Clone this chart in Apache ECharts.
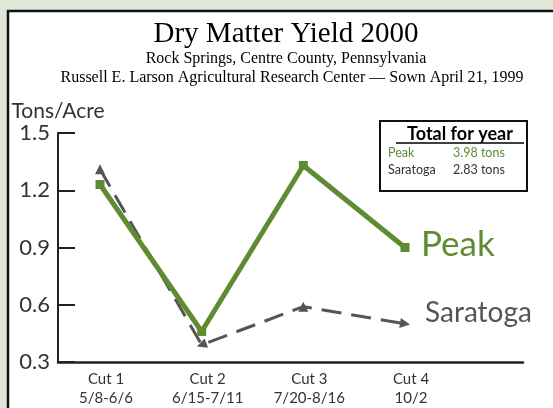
<!DOCTYPE html>
<html>
<head>
<meta charset="utf-8">
<script src="https://cdn.jsdelivr.net/npm/echarts@6/dist/echarts.min.js"></script>
<style>
html,body{margin:0;padding:0;background:#dfe7d8;}
#chart{width:553px;height:408px;}
</style>
</head>
<body>
<div id="chart"></div>
<script>
// ---- data ----
const categories = ['Cut 1', 'Cut 2', 'Cut 3', 'Cut 4'];
const cutDates = ['5/8-6/6', '6/15-7/11', '7/20-8/16', '10/2'];
const peakYield = [1.23, 0.46, 1.33, 0.90];
const saratogaYield = [1.31, 0.39, 0.59, 0.50];
const yTicks = [0.3, 0.6, 0.9, 1.2, 1.5];
const totalNames = ['Peak', 'Saratoga'];
const totalValues = ['3.98 tons', '2.83 tons'];

const titleText = 'Dry Matter Yield 2000';
const subLine1 = 'Rock Springs, Centre County, Pennsylvania';
const subLine2 = 'Russell E. Larson Agricultural Research Center \u2014 Sown April 21, 1999';
const yName = 'Tons/Acre';
const boxTitle = 'Total for year';

// ---- styling ----
const GREEN = '#5f8b33';
const GRAY = '#555555';
const SANS = 'Lato, "Open Sans", sans-serif';
const SERIF = '"Liberation Serif", "DejaVu Serif", serif';
const arrowRotate = [0, 110, 0, -99];

const chart = echarts.init(document.getElementById('chart'));
const yMin = yTicks[0], yMax = yTicks[yTicks.length - 1], yStep = yTicks[1] - yTicks[0];

const option = {
  backgroundColor: '#dfe7d8',
  animation: false,
  title: [
    { text: titleText, left: 281, top: 15, textAlign: 'center',
      textStyle: { fontFamily: SERIF, fontSize: 29, fontWeight: 'normal', color: '#000' } },
    { text: subLine1, left: 281, top: 46, textAlign: 'center',
      textStyle: { fontFamily: SERIF, fontSize: 16, fontWeight: 'normal', color: '#000' } },
    { text: subLine2, left: 287, top: 65, textAlign: 'center',
      textStyle: { fontFamily: SERIF, fontSize: 16, fontWeight: 'normal', color: '#000' } }
  ],
  graphic: [
    { type: 'rect', z: -100, silent: true,
      shape: { x: 8, y: 11, width: 700, height: 600 },
      style: { fill: '#ffffff', stroke: '#111', lineWidth: 2.5 } },
    { type: 'group', z: 100, children: [
      { type: 'rect', shape: { x: 380, y: 121, width: 147, height: 70 },
        style: { fill: '#fff', stroke: '#111', lineWidth: 2 } },
      { type: 'text', x: 460, y: 134, style: { text: boxTitle, fontFamily: SANS, fontSize: 18,
        fontWeight: 'bold', fill: '#000', textAlign: 'center', textVerticalAlign: 'middle' } },
      { type: 'line', shape: { x1: 396, y1: 143, x2: 524, y2: 143 },
        style: { stroke: '#000', lineWidth: 1.5 } },
      { type: 'text', x: 388, y: 153, style: { text: totalNames[0], fontFamily: SANS, fontSize: 12.5,
        fill: GREEN, textVerticalAlign: 'middle' } },
      { type: 'text', x: 453, y: 153, style: { text: totalValues[0], fontFamily: SANS, fontSize: 12.5,
        fill: GREEN, textVerticalAlign: 'middle' } },
      { type: 'text', x: 388, y: 170, style: { text: totalNames[1], fontFamily: SANS, fontSize: 12.5,
        fill: '#333', textVerticalAlign: 'middle' } },
      { type: 'text', x: 453, y: 170, style: { text: totalValues[1], fontFamily: SANS, fontSize: 12.5,
        fill: '#333', textVerticalAlign: 'middle' } }
    ]}
  ],
  grid: [
    { left: 58, right: 30, top: 133, bottom: 46 },
    { left: 100, right: 148, top: 133, bottom: 46 }
  ],
  xAxis: [
    { type: 'value', gridIndex: 0, min: 0, max: 1,
      axisLine: { show: true, onZero: false, lineStyle: { color: '#222', width: 2.5 } },
      axisTick: { show: false }, axisLabel: { show: false }, splitLine: { show: false } },
    { type: 'category', gridIndex: 1, boundaryGap: false,
      data: categories.map((c, i) => c + '\n' + cutDates[i]),
      axisLine: { show: false }, axisTick: { show: false }, splitLine: { show: false },
      axisLabel: { margin: 8, fontFamily: SANS, fontSize: 15, color: '#333', lineHeight: 19,
        padding: [0, 0, 0, 12] } }
  ],
  yAxis: [
    { type: 'value', gridIndex: 0, min: yMin, max: yMax, interval: yStep,
      name: yName, nameLocation: 'end', nameGap: 11,
      nameTextStyle: { fontFamily: SANS, fontSize: 21, color: '#333', align: 'center' },
      axisLine: { show: true, onZero: false, lineStyle: { color: '#222', width: 2 } },
      axisTick: { show: true, inside: true, length: 17, lineStyle: { color: '#222', width: 2 } },
      axisLabel: { margin: 8, fontFamily: SANS, fontSize: 22, color: '#333',
        formatter: v => v.toFixed(1) },
      splitLine: { show: false } },
    { type: 'value', gridIndex: 1, min: yMin, max: yMax, show: false, splitLine: { show: false } }
  ],
  series: [
    { name: 'Saratoga', type: 'line', xAxisIndex: 1, yAxisIndex: 1,
      data: saratogaYield.map((v, i) => ({ value: v, symbolRotate: arrowRotate[i] })),
      symbol: 'triangle', symbolSize: 10, showAllSymbol: true,
      lineStyle: { color: GRAY, width: 3, type: [20, 10] },
      itemStyle: { color: GRAY },
      endLabel: { show: true, formatter: '{a}', offset: [12, -11], fontFamily: SANS,
        fontSize: 28, color: GRAY } },
    { name: 'Peak', type: 'line', xAxisIndex: 1, yAxisIndex: 1,
      data: peakYield,
      symbol: 'rect', symbolSize: 9, showAllSymbol: true,
      lineStyle: { color: GREEN, width: 5 },
      itemStyle: { color: GREEN },
      endLabel: { show: true, formatter: '{a}', offset: [8, -3], fontFamily: SANS,
        fontSize: 35, color: GREEN } }
  ]
};
chart.setOption(option);
</script>
</body>
</html>
